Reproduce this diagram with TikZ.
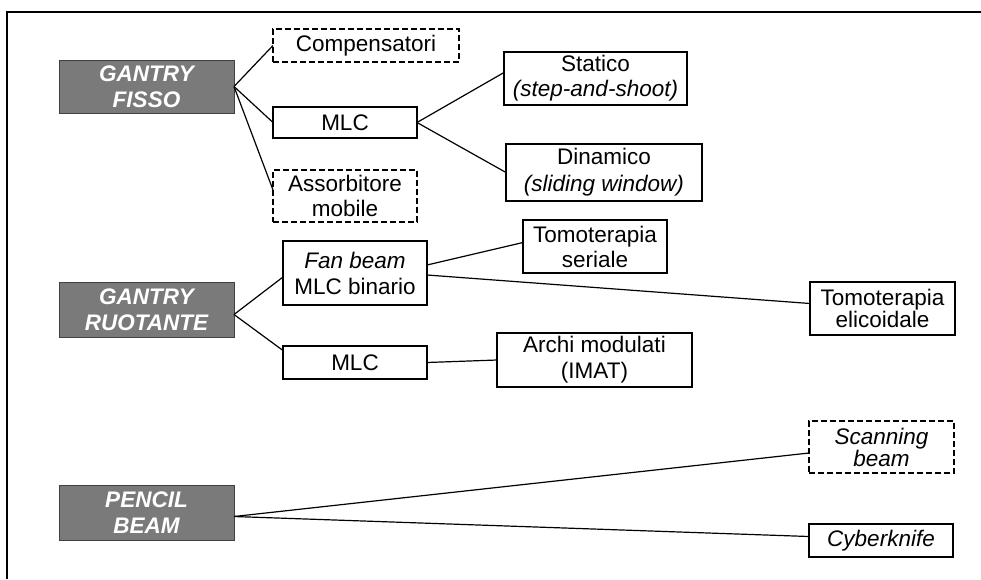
\documentclass[tikz,border=0pt]{standalone}
\usepackage{fontspec}
\setmainfont{Liberation Sans}
\begin{document}
\begin{tikzpicture}[x=1pt,y=-1pt,
  every node/.style={inner sep=0pt,outer sep=0pt,align=center,
    font=\fontsize{22.5}{23}\selectfont},
  box/.style={draw=black,line width=1.4pt,fill=white},
  dbox/.style={box,dashed,dash pattern=on 6pt off 3pt},
  hdr/.style={draw=black!75,line width=1pt,fill=black!52,text=white,
    font=\fontsize{22.5}{26}\selectfont\bfseries\itshape,
    minimum width=175pt},
  link/.style={line width=1.2pt}]
\useasboundingbox (0,0) rectangle (981,579);
\draw[line width=2pt] (981,12) -- (7,12) -- (7,579);

% headers
\node[hdr,minimum height=53pt] (gf) at (146.5,86.5) {GANTRY\\FISSO};
\node[hdr,minimum height=55pt] (gr) at (146.5,309.5) {GANTRY\\RUOTANTE};
\node[hdr,minimum height=55pt] (pb) at (146.5,512.5) {PENCIL\\BEAM};

% gantry fisso
\node[dbox,minimum width=186pt,minimum height=33pt] (comp) at (366,45.5) {Compensatori};
\node[box,minimum width=144pt,minimum height=31pt] (mlc1) at (345,122.5) {MLC};
\node[dbox,minimum width=144pt,minimum height=52pt,font=\fontsize{22.5}{25}\selectfont] (ass) at (345,196) {Assorbitore\\mobile};
\node[box,minimum width=183pt,minimum height=53pt,font=\fontsize{22.5}{25}\selectfont] (stat) at (595.5,78.5) {Statico\\\textit{(step-and-shoot)}};
\node[box,minimum width=196pt,minimum height=57pt,font=\fontsize{22.5}{27}\selectfont] (din) at (604,172.5) {Dinamico\\\textit{(sliding window)}};

% gantry ruotante
\node[box,minimum width=144pt,minimum height=64pt,font=\fontsize{22.5}{26}\selectfont] (fan) at (355,273) {\textit{Fan beam}\\MLC binario};
\node[box,minimum width=144pt,minimum height=53pt,font=\fontsize{22.5}{25}\selectfont] (ser) at (595,246.5) {Tomoterapia\\seriale};
\node[box,minimum width=145pt,minimum height=53pt,font=\fontsize{22.5}{19}\selectfont] (eli) at (882.5,308.5) {Tomoterapia\\elicoidale};
\node[box,minimum width=144pt,minimum height=33pt] (mlc2) at (355,362.5) {MLC};
\node[box,minimum width=195pt,minimum height=54pt,font=\fontsize{22.5}{26}\selectfont] (archi) at (594.5,360) {Archi modulati\\(IMAT)};

% pencil beam
\node[dbox,minimum width=145pt,minimum height=52pt,font=\fontsize{22.5}{20}\selectfont\itshape] (scan) at (881.5,447) {Scanning\\beam};
\node[box,minimum width=144pt,minimum height=33pt,font=\fontsize{22.5}{23}\selectfont\itshape] (cyber) at (881,540.5) {Cyberknife};

% connectors
\draw[link] (gf.east) -- (comp.west);
\draw[link] (gf.east) -- (mlc1.west);
\draw[link] (gf.east) -- ([yshift=6pt]ass.west);
\draw[link] (mlc1.east) -- ([yshift=6pt]stat.west);
\draw[link] (mlc1.east) -- (din.west);
\draw[link] ([yshift=8pt]fan.east) -- ([yshift=4pt]ser.west);
\draw[link] ([yshift=-2pt]fan.east) -- ([yshift=5pt]eli.west);
\draw[link] ([yshift=-5pt]gr.east) -- ([yshift=-4pt]fan.west);
\draw[link] ([yshift=-5pt]gr.east) -- ([yshift=12pt]mlc2.west);
\draw[link] (mlc2.east) -- (archi.west);
\draw[link] ([yshift=-4pt]pb.east) -- ([yshift=-6pt]scan.west);
\draw[link] ([yshift=-4pt]pb.east) -- ([yshift=4pt]cyber.west);
\end{tikzpicture}
\end{document}
